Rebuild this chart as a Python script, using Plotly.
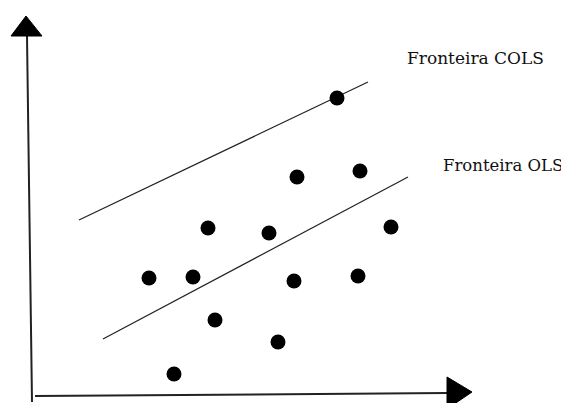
import plotly.graph_objects as go

# Scatter observations (origin at the axes' corner)
obs_x = [305, 265, 328, 176, 237, 359, 117, 161, 262, 326, 183, 246, 142]
obs_y = [297, 218, 224, 167, 162, 168, 117, 118, 114, 119, 75, 53, 21]

# Frontier lines (endpoints)
cols_x = [47, 336]
cols_y = [175, 313]
ols_x = [71, 376]
ols_y = [56, 218]

# Labels
label_cols = "Fronteira COLS"
label_ols = "Fronteira OLS"
label_cols_pos = (374, 337)
label_ols_pos = (410, 230)

# Axes with arrow heads
yaxis_line_x = [-5, 0]
yaxis_line_y = [359, -7]
yarrow_x = [-21, -6, 10, -21]
yarrow_y = [359, 379, 359, 359]
xaxis_line_x = [3, 415]
xaxis_line_y = [-1, 2]
xarrow_x = [415, 440, 415, 415]
xarrow_y = [18, 3, -14, 18]

fig = go.Figure()

fig.add_trace(go.Scatter(x=yaxis_line_x, y=yaxis_line_y, mode="lines",
                         line=dict(color="#222", width=2), hoverinfo="skip"))
fig.add_trace(go.Scatter(x=yarrow_x, y=yarrow_y, mode="lines", fill="toself",
                         fillcolor="black", line=dict(color="black", width=1), hoverinfo="skip"))
fig.add_trace(go.Scatter(x=xaxis_line_x, y=xaxis_line_y, mode="lines",
                         line=dict(color="#222", width=2), hoverinfo="skip"))
fig.add_trace(go.Scatter(x=xarrow_x, y=xarrow_y, mode="lines", fill="toself",
                         fillcolor="black", line=dict(color="black", width=1), hoverinfo="skip"))

fig.add_trace(go.Scatter(x=cols_x, y=cols_y, mode="lines",
                         line=dict(color="#222", width=1.2), name="COLS"))
fig.add_trace(go.Scatter(x=ols_x, y=ols_y, mode="lines",
                         line=dict(color="#222", width=1.2), name="OLS"))

fig.add_trace(go.Scatter(x=obs_x, y=obs_y, mode="markers",
                         marker=dict(color="black", size=15, line=dict(width=0)),
                         name="obs"))

fig.add_annotation(x=label_cols_pos[0], y=label_cols_pos[1], text=label_cols,
                   showarrow=False, xanchor="left", yanchor="middle", borderpad=0,
                   font=dict(family="DejaVu Serif", size=17, color="#111"))
fig.add_annotation(x=label_ols_pos[0], y=label_ols_pos[1], text=label_ols,
                   showarrow=False, xanchor="left", yanchor="middle", borderpad=0,
                   font=dict(family="DejaVu Serif", size=16.5, color="#111"))

# page body has an 8px margin: shift the ranges to compensate
fig.update_layout(
    width=569, height=403,
    margin=dict(l=0, r=0, t=0, b=0),
    paper_bgcolor="white", plot_bgcolor="white",
    showlegend=False,
    xaxis=dict(range=[-24, 545], visible=False, fixedrange=True),
    yaxis=dict(range=[-16, 387], visible=False, fixedrange=True),
)

fig.write_html("out.html")
